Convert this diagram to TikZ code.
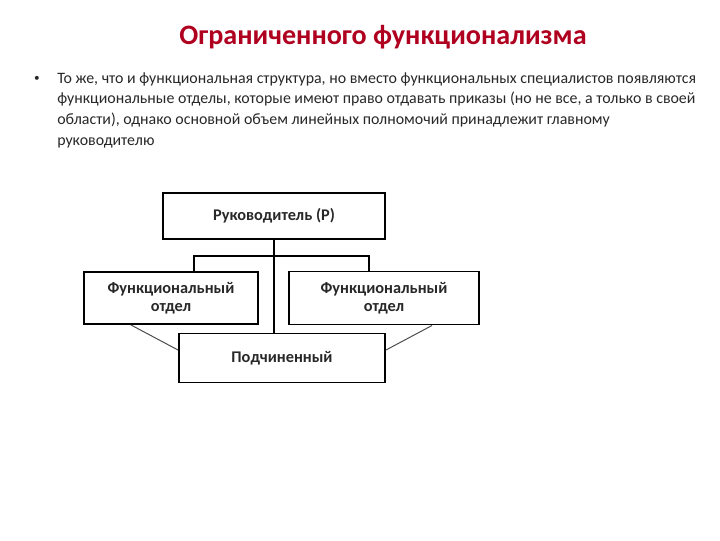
\documentclass[tikz,border=0pt]{standalone}
\usepackage{fontspec}
\setmainfont{Carlito}
\usepackage{tikz}
\usetikzlibrary{calc}
\definecolor{titlered}{RGB}{176,0,32}
\definecolor{bodytext}{RGB}{40,40,40}

\begin{document}
\begin{tikzpicture}[x=0.025cm,y=-0.025cm,
    unit/.style={draw,line width=1.4pt,align=center,inner sep=0pt,
      font=\fontsize{11.6}{13}\selectfont\bfseries,text=bodytext},
    link/.style={line width=0.8pt},
    side/.style={line width=0.7pt,draw=black!70}]
    \useasboundingbox[fill=white] (0,0) rectangle (720,540);
%   heading and text
    \node (title) at (383,37) [font=\fontsize{20}{24}\selectfont\bfseries,text=titlered] {Ограниченного функционализма};
    \node (dot) at (37,79) [font=\fontsize{8}{10}\selectfont,text=bodytext] {•};
    \node (body) at (57,72) [anchor=north west,inner sep=0pt,align=left,
      font=\fontsize{11.3}{14.7}\selectfont,text=bodytext]
      {То же, что и функциональная структура, но вместо функциональных специалистов появляются\\
       функциональные отделы, которые имеют право отдавать приказы (но не все, а только в своей\\
       области), однако основной объем линейных полномочий принадлежит главному\\
       руководителю};
%   boxes
    \node (head) at (274,216) [unit,minimum width=222*0.025cm,minimum height=46*0.025cm] {Руководитель (Р)};
    \node (left) at (171,298) [unit,minimum width=174*0.025cm,minimum height=52*0.025cm] {Функциональный\\отдел};
    \node (right) at (384,298) [unit,minimum width=190*0.025cm,minimum height=53*0.025cm] {Функциональный\\отдел};
    \node (sub) at (282,358) [unit,minimum width=206*0.025cm,minimum height=49*0.025cm] {Подчиненный};
%   connectors
    \coordinate (jl) at (194,256);
    \coordinate (jr) at (369,256);
    \draw[link] (head.south) -- (head.south |- sub.north);
    \draw[link] (left.north -| jl) -- (jl) -- (jr) -- (right.north -| jr);
    \coordinate (dl) at (131,326);
    \coordinate (dr) at (432,326);
    \coordinate (dm) at (0,350);
    \draw[side] (left.south -| dl) -- (sub.west |- dm);
    \draw[side] (right.south -| dr) -- (sub.east |- dm);
\end{tikzpicture}
\end{document}
